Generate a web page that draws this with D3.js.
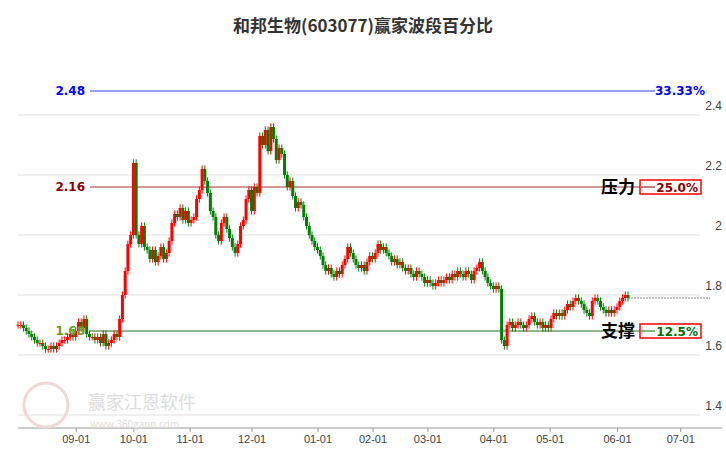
<!DOCTYPE html>
<html lang="zh">
<head>
<meta charset="utf-8">
<title>和邦生物(603077)赢家波段百分比</title>
<script src="https://cdn.jsdelivr.net/npm/d3@7"></script>
<style>
body{margin:0;background:#fff;font-family:"Noto Sans CJK SC","Noto Sans",sans-serif;}
</style>
</head>
<body>
<script>
// daily closes (open = previous close)
var closes = [
 1.70,1.70,1.69,1.68,1.67,1.66,1.65,1.64,1.64,1.63,1.62,1.62,1.63,1.62,1.63,1.64,1.65,1.65,1.66,1.67,1.66,
 1.68,1.71,1.69,1.72,1.67,1.66,1.66,1.65,1.66,1.64,1.67,1.63,1.64,1.65,1.67,
 1.66,1.72,1.80,1.88,1.97,2.00,
 2.24,2.00,1.97,2.03,1.96,1.95,1.92,1.95,1.91,1.93,1.96,1.92,1.94,1.98,2.04,2.07,2.06,2.09,2.05,2.08,2.04,
 2.05,2.06,2.12,2.15,2.22,2.18,2.14,2.08,2.06,2.00,1.98,2.04,2.06,2.02,1.99,1.96,1.94,1.97,2.03,2.05,2.12,
 2.15,2.08,2.16,2.14,2.33,2.30,2.35,2.28,2.36,2.32,2.25,2.29,2.27,2.20,2.16,2.18,2.13,2.09,2.11,2.10,
 2.06,2.03,2.00,1.98,1.96,1.95,1.93,1.90,1.88,1.89,1.87,1.86,1.88,1.87,1.90,1.92,1.96,1.94,1.92,1.90,
 1.89,1.90,1.88,1.91,1.93,1.92,1.94,1.97,1.95,1.96,1.94,1.93,1.91,1.92,1.90,1.91,1.89,1.88,1.89,1.87,
 1.86,1.88,1.87,1.86,1.84,1.85,1.84,1.83,1.84,1.85,1.84,1.85,1.86,1.85,1.87,1.86,1.88,1.87,1.86,1.88,
 1.87,1.85,1.88,1.89,1.91,1.88,1.86,1.84,1.83,1.82,1.83,1.82,
 1.65,1.63,1.70,1.71,1.69,1.70,1.71,1.70,1.69,1.70,1.72,1.73,1.71,1.70,1.71,1.69,1.70,1.69,1.72,1.74,
 1.73,1.74,1.73,1.75,1.77,1.76,1.78,1.79,1.78,1.77,1.75,1.74,1.73,1.78,1.79,1.78,1.76,1.75,1.74,1.75,
 1.74,1.75,1.76,1.78,1.79,1.80,1.79
];
var tickIdx = [21,42,62.5,85,109,129,149,173,193.5,218,241];
var tickLabels = ["09-01","10-01","11-01","12-01","01-01","02-01","03-01","04-01","05-01","06-01","07-01"];
var yTicks = [1.4,1.6,1.8,2.0,2.2,2.4];
var yTickLabels = ["1.4","1.6","1.8","2","2.2","2.4"];
var levels = [2.48,2.16,1.68];
var levelLabels = ["2.48","2.16","1.68"];
var levelPct = ["33.33%","25.0%","12.5%"];

var w = 726, h = 450;
var svg = d3.select("body").append("svg").attr("width",w).attr("height",h);

var x = d3.scaleLinear().domain([0,222]).range([18,628]);
var y = d3.scaleLinear().domain([1.4,2.4]).range([415,115]);

svg.append("text").attr("x",w/2).attr("y",32).attr("text-anchor","middle")
  .attr("font-size",17).attr("font-weight","bold").attr("fill","#333").text("和邦生物(603077)赢家波段百分比");

// grid
svg.selectAll("line.grid").data(yTicks).enter().append("line")
  .attr("x1",18).attr("x2",700).attr("y1",function(d){return y(d);}).attr("y2",function(d){return y(d);})
  .attr("stroke","#e0e0e0").attr("stroke-width",1);
svg.selectAll("text.yl").data(yTicks).enter().append("text")
  .attr("x",722).attr("y",function(d){return y(d)-5;}).attr("text-anchor","end")
  .attr("font-size",12).attr("fill","#444").attr("font-family","Liberation Sans, sans-serif")
  .text(function(d,i){return yTickLabels[i];});

// x axis
var xa = svg.append("g").attr("transform","translate(0,428)")
  .call(d3.axisBottom(x).tickValues(tickIdx).tickFormat(function(d,i){return tickLabels[i];}).tickSize(4).tickSizeOuter(0));
xa.select(".domain").attr("d","M18,0H722").attr("stroke","#999");
xa.selectAll(".tick line").attr("stroke","#999");
xa.selectAll("text").attr("font-size",11).attr("fill","#444").attr("font-family","Liberation Sans, sans-serif");

// watermark
svg.append("circle").attr("cx",46).attr("cy",405).attr("r",22).attr("fill","none").attr("stroke","#f0d8d8").attr("stroke-width",3);
svg.append("text").attr("x",88).attr("y",409).attr("font-size",18).attr("fill","#ddd").text("赢家江恩软件");
svg.append("text").attr("x",90).attr("y",428).attr("font-size",10).attr("fill","#ddd").text("www.360gann.com");

// levels
var lvColor = ["#0000ff","#8b0000","#006400"];
var lineColor = ["#3344ff","#a03030","#207020"];
svg.selectAll("line.lv").data(levels).enter().append("line")
  .attr("x1",90).attr("x2",function(d,i){return i==0?655:700;})
  .attr("y1",function(d){return y(d);}).attr("y2",function(d){return y(d);})
  .attr("stroke",function(d,i){return lineColor[i];}).attr("stroke-width",1);

// last close dotted
svg.append("line").attr("x1",x(222)).attr("x2",710).attr("y1",y(1.79)).attr("y2",y(1.79))
  .attr("stroke","#888").attr("stroke-dasharray","2,1");

// candles
var candles = closes.map(function(c,i){
  var o = i==0 ? c : closes[i-1];
  return {i:i,o:o,c:c,hi:Math.max(o,c)+0.012,lo:Math.min(o,c)-0.012};
});
var g = svg.append("g");
g.selectAll("line.wick").data(candles).enter().append("line")
  .attr("x1",function(d){return x(d.i);}).attr("x2",function(d){return x(d.i);})
  .attr("y1",function(d){return y(d.hi);}).attr("y2",function(d){return y(d.lo);})
  .attr("stroke",function(d){return d.c>=d.o?"#ff0000":"#008000";});
g.selectAll("rect").data(candles).enter().append("rect")
  .attr("x",function(d){return x(d.i)-1.5;}).attr("width",3)
  .attr("y",function(d){return y(Math.max(d.o,d.c));})
  .attr("height",function(d){return Math.max(1,Math.abs(y(d.o)-y(d.c)));})
  .attr("fill",function(d){return d.c>=d.o?"#ff0000":"#008000";});

// level labels
svg.selectAll("text.lvl").data(levels).enter().append("text")
  .attr("x",85).attr("y",function(d){return y(d)+4;}).attr("text-anchor","end")
  .attr("font-size",12).attr("font-weight","bold").attr("font-family","DejaVu Sans, sans-serif")
  .attr("fill",function(d,i){return i==2?"#6a9a20":lvColor[i];})
  .text(function(d,i){return levelLabels[i];});

svg.append("text").attr("x",705).attr("y",y(levels[0])+4).attr("text-anchor","end")
  .attr("font-size",12).attr("font-weight","bold").attr("font-family","DejaVu Sans, sans-serif")
  .attr("fill","#0000ff").text(levelPct[0]);

var boxes = [{v:levels[1],t:"压力",p:levelPct[1],c:"#8b0000"},{v:levels[2],t:"支撑",p:levelPct[2],c:"#007000"}];
boxes.forEach(function(b){
  var yy = y(b.v);
  svg.append("text").attr("x",635).attr("y",yy+6).attr("text-anchor","end")
    .attr("font-size",17).attr("font-weight","bold").attr("fill","#000").text(b.t);
  svg.append("rect").attr("x",640).attr("y",yy-7).attr("width",61).attr("height",14)
    .attr("fill","#fff").attr("stroke","#ff0000").attr("stroke-width",1.5);
  svg.append("line").attr("x1",641).attr("x2",655).attr("y1",yy).attr("y2",yy).attr("stroke",b.c);
  svg.append("text").attr("x",698).attr("y",yy+4.5).attr("text-anchor","end")
    .attr("font-size",12).attr("font-weight","bold").attr("font-family","DejaVu Sans, sans-serif").attr("fill",b.c).text(b.p);
});
</script>
</body>
</html>
